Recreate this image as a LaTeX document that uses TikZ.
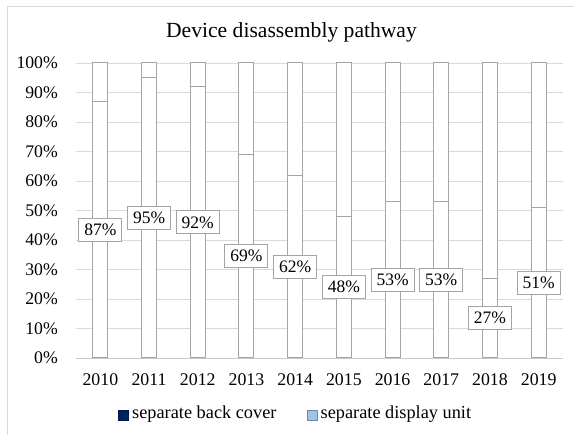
\documentclass[tikz,border=0pt]{standalone}
\usepackage{fontspec}
\setmainfont{Liberation Serif}
\definecolor{barc}{RGB}{165,165,165}
\definecolor{gridc}{RGB}{217,217,217}
\definecolor{axisc}{RGB}{200,200,200}
\definecolor{navy}{RGB}{0,32,96}
\definecolor{lblue}{RGB}{157,195,230}
\begin{document}
\begin{tikzpicture}[x=1pt,y=-1pt,
  gridline/.style={draw=gridc, line width=0.8pt},
  barbox/.style={draw=barc, fill=white, line width=1pt},
  lbl/.style={draw=barc, fill=white, line width=1pt, font=\fontsize{17.5}{17.5}\selectfont, minimum width=43pt, minimum height=23pt, inner sep=0pt},
  ticklbl/.style={anchor=east, font=\fontsize{17.7}{17.7}\selectfont, inner sep=0pt},
  yearlbl/.style={font=\fontsize{17.8}{17.8}\selectfont, inner sep=0pt},
  legtext/.style={anchor=west, font=\fontsize{18.3}{18.3}\selectfont, inner sep=0pt},
  legsq/.style={minimum size=10pt, inner sep=0pt, line width=0.6pt}]
\useasboundingbox (0,0) rectangle (574,435);
\begin{scope}
\clip (0,0) rectangle (574,435);
\draw[draw=gridc, line width=0.8pt] (7,6) rectangle (600,460);
\end{scope}
\node[font=\fontsize{21.6}{21.6}\selectfont, inner sep=0pt] (title) at (291.5,32) {Device disassembly pathway};
% gridlines and tick labels
\foreach \k in {1,...,10} {
  \pgfmathsetmacro{\yy}{358-29.5*\k}
  \draw[gridline] (76,\yy) -- (563,\yy);
}
\foreach \k in {0,...,10} {
  \pgfmathsetmacro{\yy}{358-29.5*\k}
  \pgfmathtruncatemacro{\pp}{10*\k}
  \node[ticklbl] (t\k) at (58,\yy) {\pp\%};
}
% bars
\foreach \v [count=\i from 0] in {87,95,92,69,62,48,53,53,27,51} {
  \pgfmathsetmacro{\cx}{100.35+48.7*\i}
  \pgfmathsetmacro{\ys}{358-2.95*\v}
  \pgfmathsetmacro{\yl}{358-2.95*\v/2}
  \draw[barbox] (\cx-7.5,63) rectangle (\cx+7.5,\ys);
  \draw[barbox] (\cx-7.5,\ys) rectangle (\cx+7.5,358);
  \node[lbl] (l\i) at (\cx,\yl) {\v\%};
  \pgfmathtruncatemacro{\yr}{2010+\i}
  \node[yearlbl] (y\i) at (\cx,379.5) {\yr};
}
\draw[draw=axisc, line width=0.8pt] (76,358) -- (563,358);
% legend
\node[legsq, draw=navy!80!black, fill=navy] (sq1) at (123.5,415.5) {};
\node[legtext] (lt1) at (132,414) {separate back cover};
\node[legsq, draw=lblue!70!black, fill=lblue] (sq2) at (312,415.5) {};
\node[legtext] (lt2) at (320.5,414) {separate display unit};
\end{tikzpicture}
\end{document}
